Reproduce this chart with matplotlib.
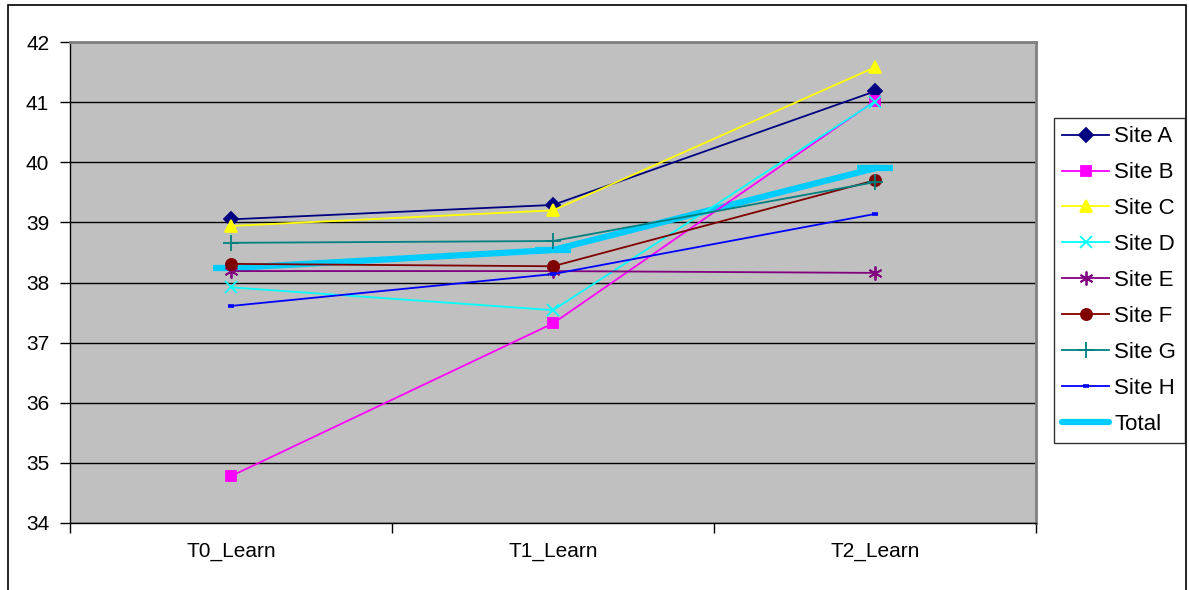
import matplotlib as mpl

mpl.use("Agg")

import matplotlib.pyplot as plt
from matplotlib.patches import Rectangle

plt.rcParams["font.family"] = ["Liberation Sans", "DejaVu Sans"]

# data
phases = ["T0_Learn", "T1_Learn", "T2_Learn"]
site_a = [39.05, 39.29, 41.18]
site_b = [34.78, 37.32, 41.02]
site_c = [38.94, 39.20, 41.58]
site_d = [37.92, 37.54, 41.01]
site_e = [38.19, 38.19, 38.16]
site_f = [38.31, 38.27, 39.70]
site_g = [38.66, 38.69, 39.67]
site_h = [37.61, 38.14, 39.14]
total = [38.24, 38.54, 39.90]

series = [
    ("Site A", site_a, "#000080", "D", 7),
    ("Site B", site_b, "#FF00FF", "s", 7),
    ("Site C", site_c, "#FFFF00", "^", 9),
    ("Site D", site_d, "#00FFFF", "x", 9),
    ("Site E", site_e, "#800080", (6, 2, 0), 10),
    ("Site F", site_f, "#800000", "o", 8),
    ("Site G", site_g, "#008080", "+", 11),
    ("Site H", site_h, "#0000FF", "_", 5),
]

fig = plt.figure(figsize=(11.89, 5.90), dpi=100)
ax = fig.add_axes([70 / 1189, 1 - 523 / 590, 966 / 1189, 481 / 590])
ax.set_facecolor("#C0C0C0")

x = list(range(len(phases)))
handles = []
for name, vals, color, marker, ms in series:
    mew = 2.6 if marker == "_" else 1.3
    (ln,) = ax.plot(x, vals, color=color, lw=1.3, marker=marker, ms=ms,
                    mfc=color, mec=color, mew=mew, label=name, zorder=3)
    handles.append(ln)

ax.plot(x, total, color="#00CCFF", lw=4.5, marker="_", ms=26, mew=4.5,
        zorder=2)
(tot_handle,) = ax.plot([], [], color="#00CCFF", lw=4.5,
                        solid_capstyle="round", label="Total")
handles.append(tot_handle)

ax.set_xlim(-0.5, 2.5)
ax.set_ylim(34, 42)
ax.set_yticks(range(34, 43))
ax.set_xticks(x)
ax.set_xticklabels(phases)
ax.set_xticks([-0.5, 0.5, 1.5, 2.5], minor=True)
ax.tick_params(axis="x", which="major", length=0, pad=14, labelsize=15)
ax.tick_params(axis="x", which="minor", length=7, width=1, direction="out")
ax.tick_params(axis="y", length=7, width=1, direction="out", pad=8, labelsize=15)
ax.yaxis.grid(True, color="black", lw=1)
ax.set_axisbelow(True)

for side in ("top", "right"):
    ax.spines[side].set_color("#808080")
    ax.spines[side].set_linewidth(2)
for side in ("left", "bottom"):
    ax.spines[side].set_color("black")
    ax.spines[side].set_linewidth(1)

leg = fig.legend(handles=handles, loc="upper left",
                 bbox_to_anchor=(1054 / 1189, 1 - 118 / 590),
                 bbox_transform=fig.transFigure, borderaxespad=0,
                 fontsize=16, frameon=True, fancybox=False, edgecolor="black",
                 handlelength=2.1, handletextpad=0.23, labelspacing=0.67,
                 borderpad=0.38)
leg.get_frame().set_linewidth(1)

fig.patches.append(Rectangle((8 / 1189, -0.1), 1178 / 1189, 1.1 - 5 / 590,
                             transform=fig.transFigure, fill=False,
                             edgecolor="black", lw=1.2))

fig.savefig("out.png", dpi=100)
